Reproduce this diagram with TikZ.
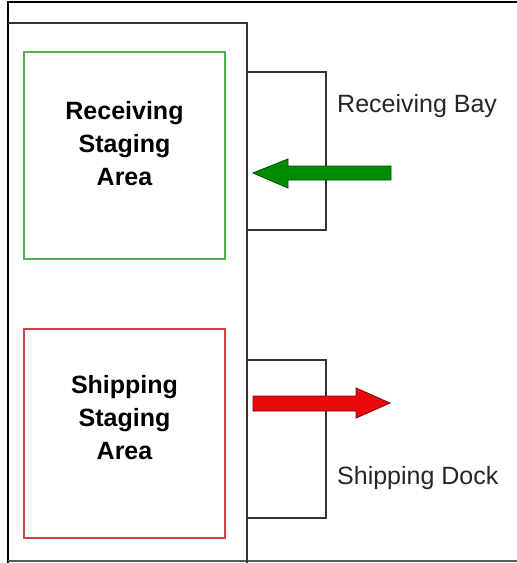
\documentclass[tikz,border=0pt]{standalone}
\usepackage{fontspec}
\setmainfont{Liberation Sans}
\usetikzlibrary{positioning, calc}
\definecolor{recvgreen}{RGB}{0,140,0}
\definecolor{recvline}{RGB}{80,175,80}
\definecolor{shipred}{RGB}{235,10,10}
\definecolor{shipline}{RGB}{205,70,70}
\tikzset{
	wall/.style={draw=black!80, line width=1.3pt},
	staging/.style={rectangle, line width=1.1pt, minimum width=201pt, align=center, font=\bfseries\fontsize{25}{33}\selectfont},
	dock/.style={rectangle, wall, minimum width=79pt, minimum height=158pt},
	docklabel/.style={anchor=base west, inner sep=0pt, text=black!85, font=\fontsize{25}{30}\selectfont},
	blockarr/.style={line width=0.9pt, line join=miter}
}

\begin{document}
\begin{tikzpicture}[x=1pt, y=-1pt]
        \useasboundingbox (0,0) rectangle (517,563);

        % frame and building
        \draw[line width=2.6pt] (517,2) -- (8,2) -- (8,563);
        \draw[black!65, line width=1.4pt] (8,561) -- (517,561);
        \draw[wall] (8,23) -- (247,23) -- (247,563);

        % staging areas
        \node[staging, draw=recvline, minimum height=207pt] (recv) at (124.5,155.5) {};
        \node[staging, draw=shipline, minimum height=209pt] (ship) at (124.5,433.5) {};
        \node[staging, draw=none] (recvtext) at (124.5,144) {Receiving\\Staging\\Area};
        \node[staging, draw=none] (shiptext) at (124.5,418) {Shipping\\Staging\\Area};

        % docks
        \node[dock] (bay) at (286.5,151) {};
        \node[dock] (dockbox) at (286.5,439) {};
        \node[docklabel] (baylabel) at (337,112) {Receiving Bay};
        \node[docklabel] (docklabel) at (337,484) {Shipping Dock};

        % truck flow
        \coordinate (intip) at (253,173);
        \coordinate (outtail) at (253,403.5);
        \draw[blockarr, fill=recvgreen, draw=recvgreen!60!black] (intip) -- ++(35,-14) -- ++(0,7) -- ++(103,0) -- ++(0,14) -- ++(-103,0) -- ++(0,8) -- cycle;
        \draw[blockarr, fill=shipred, draw=shipred!55!black] (outtail) ++(0,-7.5) -- ++(103,0) -- ++(0,-8) -- ++(34,15) -- ++(-34,15) -- ++(0,-7) -- ++(-103,0) -- cycle;
    \end{tikzpicture}
\end{document}
